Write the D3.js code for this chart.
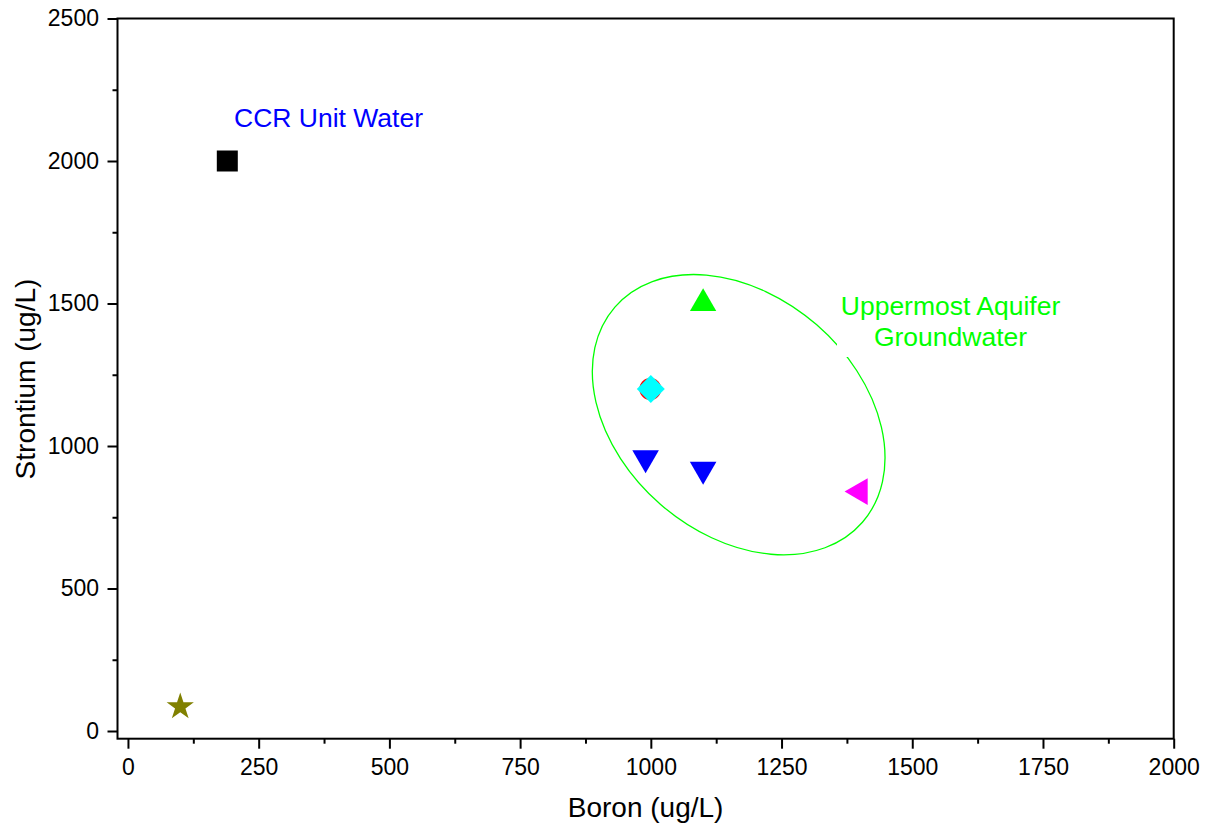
<!DOCTYPE html>
<html>
<head>
<meta charset="utf-8">
<script src="https://cdn.jsdelivr.net/npm/d3@7"></script>
<style>
  body { margin: 0; background: #fff; }
  text { font-family: "Liberation Sans", Arial, sans-serif; }
</style>
</head>
<body>
<div id="viz"></div>
<script>
/*** data ***/
const series = ["CCR", "Background", "MW-1", "MW-2", "MW-3", "MW-4", "MW-5", "MW-6"];
const boron = [190, 100, 1100, 999, 1000, 990, 1100, 1400];
const strontium = [2000, 85, 1500, 1200, 1200, 958, 918, 840];
const markers = ["square", "star", "triUp", "circle", "diamond", "triDown", "triDown", "triLeft"];
const colors = ["#000000", "#808000", "#00ff00", "#ff0000", "#00ffff", "#0000ff", "#0000ff", "#ff00ff"];

const xTicks = [0, 250, 500, 750, 1000, 1250, 1500, 1750, 2000];
const xMinor = [125, 375, 625, 875, 1125, 1375, 1625, 1875];
const yTicks = [0, 500, 1000, 1500, 2000, 2500];
const yMinor = [250, 750, 1250, 1750, 2250];

// ellipse around groundwater samples (centre in data units)
const ellipseCenter = [1168, 1110];

/*** global variable/s ***/
const width = 1209, height = 832;
const margin = { top: 18.5, right: 35.3, bottom: 93.3, left: 117.5 };

const x = d3.scaleLinear()
  .domain([-20, 2000])
  .range([margin.left, width - margin.right]);
const y = d3.scaleLinear()
  .domain([-27, 2500])
  .range([height - margin.bottom, margin.top]);

const svg = d3.select("#viz")
  .append("svg")
  .attr("width", width)
  .attr("height", height);

/*** ellipse ***/
svg.append("ellipse")
  .attr("cx", 0)
  .attr("cy", 0)
  .attr("rx", 164)
  .attr("ry", 119)
  .attr("transform", `translate(${x(ellipseCenter[0])},${y(ellipseCenter[1])}) rotate(41)`)
  .attr("fill", "none")
  .attr("stroke", "#00ff00")
  .attr("stroke-width", 1.3);

/*** labels ***/
svg.append("text")
  .attr("x", 234)
  .attr("y", 127)
  .attr("fill", "#0000ff")
  .attr("font-size", 26.5)
  .text("CCR Unit Water");

// white frame behind the groundwater label (cuts the ellipse)
svg.append("rect")
  .attr("x", 837)
  .attr("y", 286)
  .attr("width", 228)
  .attr("height", 71)
  .attr("fill", "#fff");

const gw = svg.append("text")
  .attr("fill", "#00ff00")
  .attr("font-size", 26.5)
  .attr("text-anchor", "middle");
gw.append("tspan").attr("x", 950.5).attr("y", 315).text("Uppermost Aquifer");
gw.append("tspan").attr("x", 950.5).attr("y", 346).text("Groundwater");

/*** markers ***/
function markerPath(kind) {
  switch (kind) {
    case "square": return "M-10.5,-10.5H10.5V10.5H-10.5Z";
    case "diamond": return "M0,-14L14,0L0,14L-14,0Z";
    case "circle": return d3.symbol(d3.symbolCircle, Math.PI * 11 * 11)();
    case "star": return d3.symbol(d3.symbolStar, 230)();
    case "triUp": return d3.symbol(d3.symbolTriangle, 300)();
    case "triDown": return "M-13.3,-7.7L13.3,-7.7L0,15.4Z";
    case "triLeft": return "M-15.4,0L7.7,-13.3L7.7,13.3Z";
  }
}

const points = series.map((s, i) => ({
  name: s, b: boron[i], sr: strontium[i], marker: markers[i], color: colors[i]
}));

svg.append("g")
  .selectAll("path")
  .data(points)
  .join("path")
  .attr("d", d => markerPath(d.marker))
  .attr("transform", d => `translate(${x(d.b)},${y(d.sr)})`)
  .attr("fill", d => d.color);

/*** axes ***/
svg.append("g")
  .attr("transform", `translate(0,${height - margin.bottom})`)
  .call(d3.axisBottom(x).tickValues(xTicks).tickFormat(d3.format("d")).tickSize(10).tickPadding(10));
svg.append("g")
  .attr("transform", `translate(0,${height - margin.bottom})`)
  .call(d3.axisBottom(x).tickValues(xMinor).tickSize(5).tickFormat(""));

svg.append("g")
  .attr("transform", `translate(${margin.left},0)`)
  .call(d3.axisLeft(y).tickValues(yTicks).tickFormat(d3.format("d")).tickSize(10).tickPadding(8.5));
svg.append("g")
  .attr("transform", `translate(${margin.left},0)`)
  .call(d3.axisLeft(y).tickValues(yMinor).tickSize(5).tickFormat(""));

svg.selectAll(".domain").remove();
svg.selectAll(".tick line").attr("stroke", "#000").attr("stroke-width", 2);
svg.selectAll(".tick text")
  .attr("fill", "#000")
  .attr("font-size", 23);

// frame
svg.append("rect")
  .attr("x", margin.left)
  .attr("y", margin.top)
  .attr("width", width - margin.left - margin.right)
  .attr("height", height - margin.top - margin.bottom)
  .attr("fill", "none")
  .attr("stroke", "#000")
  .attr("stroke-width", 2);

/*** axis titles ***/
svg.append("text")
  .attr("x", (margin.left + width - margin.right) / 2)
  .attr("y", 817)
  .attr("text-anchor", "middle")
  .attr("font-size", 28)
  .text("Boron (ug/L)");

svg.append("text")
  .attr("transform", `translate(34.5,379) rotate(-90)`)
  .attr("text-anchor", "middle")
  .attr("font-size", 28)
  .text("Strontium (ug/L)");
</script>
</body>
</html>
